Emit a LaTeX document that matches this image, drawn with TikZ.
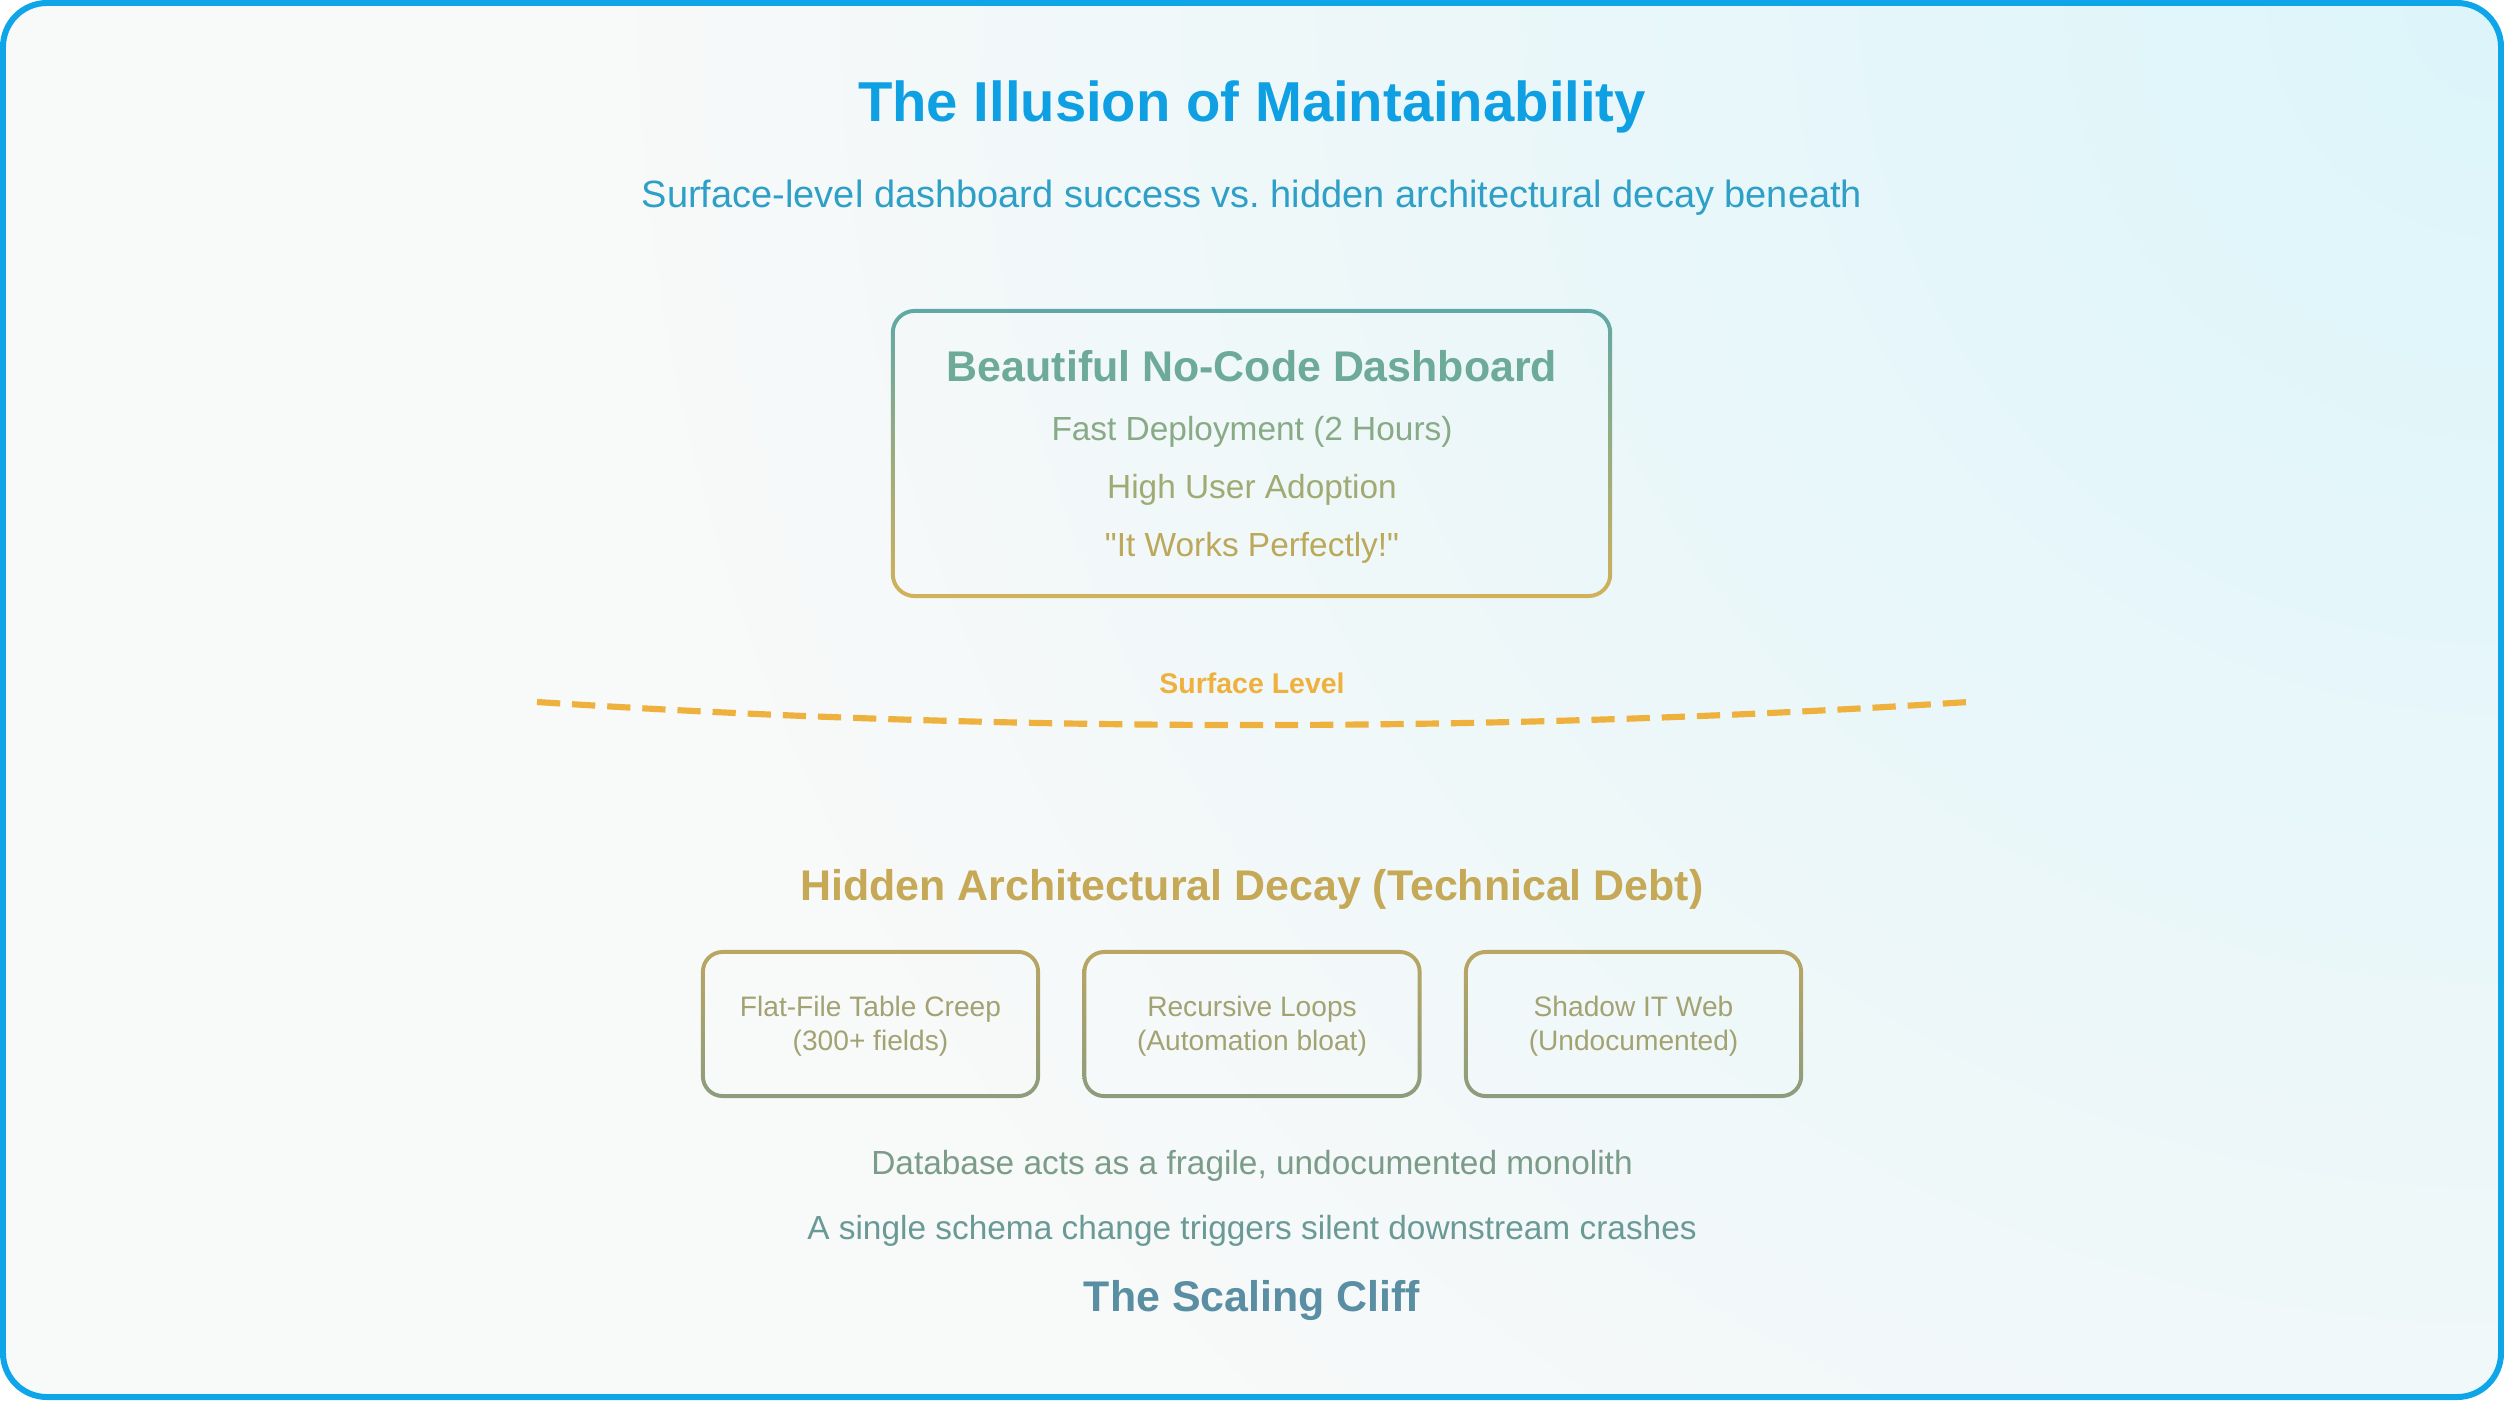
\documentclass[tikz,border=0pt]{standalone}
\usepackage{fontspec}
\setmainfont{Liberation Sans}[Ligatures=TeXOff]
\setsansfont{Liberation Sans}[Ligatures=TeXOff]
\frenchspacing
\definecolor{bgc}{HTML}{F8F9F9}
\definecolor{glow}{HTML}{DCF5FA}
\definecolor{framec}{HTML}{0EA5E9}
\definecolor{titlec}{HTML}{0EA0E2}
\definecolor{subc}{HTML}{2E9FC6}
\definecolor{boxtop}{HTML}{60A8A6}
\definecolor{boxbot}{HTML}{D2B158}
\definecolor{dashc}{HTML}{6DAA98}
\definecolor{lonec}{HTML}{89AA86}
\definecolor{ltwoc}{HTML}{A2AA74}
\definecolor{lthreec}{HTML}{BCA85A}
\definecolor{surfc}{HTML}{EFB13D}
\definecolor{decayc}{HTML}{C6A957}
\definecolor{sbtop}{HTML}{BAA662}
\definecolor{sbbot}{HTML}{8C9C7E}
\definecolor{sbtext}{HTML}{A3A272}
\definecolor{dbonec}{HTML}{7A9C88}
\definecolor{dbtwoc}{HTML}{6A9A96}
\definecolor{cliffc}{HTML}{5A8EA2}
\newcommand\gradring[5]{%
  \shade[top color=#2, bottom color=#3, even odd rule, rounded corners=#4]
    ([shift={(-2,-2)}]#1.north west) rectangle ([shift={(2,2)}]#1.south east)
    [rounded corners=#5]
    ([shift={(2,2)}]#1.north west) rectangle ([shift={(-2,-2)}]#1.south east);}
\tikzset{
  txt/.style={inner sep=0pt, outer sep=0pt, anchor=base},
  maintitle/.style={txt, font=\fontsize{16}{19}\selectfont\bfseries, text=titlec},
  subtitle/.style={txt, font=\fontsize{10.8}{13}\selectfont, text=subc},
  boldmid/.style={txt, font=\fontsize{12.2}{14.5}\selectfont\bfseries},
  regmid/.style={txt, font=\fontsize{9.5}{11.5}\selectfont},
  smalltxt/.style={txt, font=\fontsize{8}{9.6}\selectfont, text=sbtext},
  surflabel/.style={txt, font=\fontsize{8.1}{9.7}\selectfont\bfseries, text=surfc},
  bigbox/.style={inner sep=0pt, outer sep=0pt, minimum width=7.17cm, minimum height=2.85cm},
  smallbox/.style={inner sep=0pt, outer sep=0pt, minimum width=3.35cm, minimum height=1.44cm},
  frame/.style={draw=framec, line width=1.7pt, rounded corners=12.5pt},
  surfaceline/.style={draw=surfc, line width=1.75pt, dash pattern=on 6.6pt off 3.4pt}
}
\begin{document}
\begin{tikzpicture}[x=0.01cm,y=-0.01cm]
\useasboundingbox (0,0) rectangle (2504,1400);
\fill[white] (0,0) rectangle (2504,1400);
\begin{scope}
  \clip[rounded corners=12.5pt] (3,3) rectangle (2501,1397);
  \fill[bgc] (0,0) rectangle (2504,1400);
  \shade[inner color=glow, outer color=bgc] (2504,0) circle (19cm);
\end{scope}
\draw[frame] (3,3) rectangle (2501,1397);

% titles
\node[maintitle] (title) at (1252,122) {The Illusion of Maintainability};
\node[subtitle] (subtitle) at (1252,207) {Surface-level dashboard success vs. hidden architectural decay beneath};

% top box
\node[bigbox] (dash) at (1251.5,453.5) {};
\gradring{dash}{boxtop}{boxbot}{6.8pt}{5.6pt}
\node[boldmid, text=dashc] (dashtitle) at (1252,381) {Beautiful No-Code Dashboard};
\node[regmid, text=lonec] (fast) at (1252,440) {Fast Deployment (2 Hours)};
\node[regmid, text=ltwoc] (adopt) at (1252,498) {High User Adoption};
\node[regmid, text=lthreec] (works) at (1252,556) {"It Works Perfectly!"};

% surface line
\node[surflabel] (surf) at (1252,693) {Surface Level};
\coordinate (sl) at (537,702);
\coordinate (slc) at (1014,732.7);
\coordinate (src) at (1490.7,732.7);
\coordinate (sr) at (1968,702);
\draw[surfaceline] (sl) .. controls (slc) and (src) .. (sr);

% hidden decay
\node[boldmid, text=decayc] (decay) at (1252,900) {Hidden Architectural Decay (Technical Debt)};

\node[smallbox] (b1) at (870.5,1024) {};
\node[smallbox] (b2) at (1252,1024) {};
\node[smallbox] (b3) at (1633.5,1024) {};
\gradring{b1}{sbtop}{sbbot}{6.2pt}{5.0pt}
\gradring{b2}{sbtop}{sbbot}{6.2pt}{5.0pt}
\gradring{b3}{sbtop}{sbbot}{6.2pt}{5.0pt}
\node[smalltxt] (b1a) at (870.5,1016) {Flat-File Table Creep};
\node[smalltxt] (b1b) at (870.5,1050) {(300+ fields)};
\node[smalltxt] (b2a) at (1252,1016) {Recursive Loops};
\node[smalltxt] (b2b) at (1252,1050) {(Automation bloat)};
\node[smalltxt] (b3a) at (1633.5,1016) {Shadow IT Web};
\node[smalltxt] (b3b) at (1633.5,1050) {(Undocumented)};

% bottom texts
\node[regmid, text=dbonec] (mono) at (1252,1174) {Database acts as a fragile, undocumented monolith};
\node[regmid, text=dbtwoc] (schema) at (1252,1239) {A single schema change triggers silent downstream crashes};
\node[boldmid, text=cliffc] (cliff) at (1252,1311) {The Scaling Cliff};
\end{tikzpicture}
\end{document}
